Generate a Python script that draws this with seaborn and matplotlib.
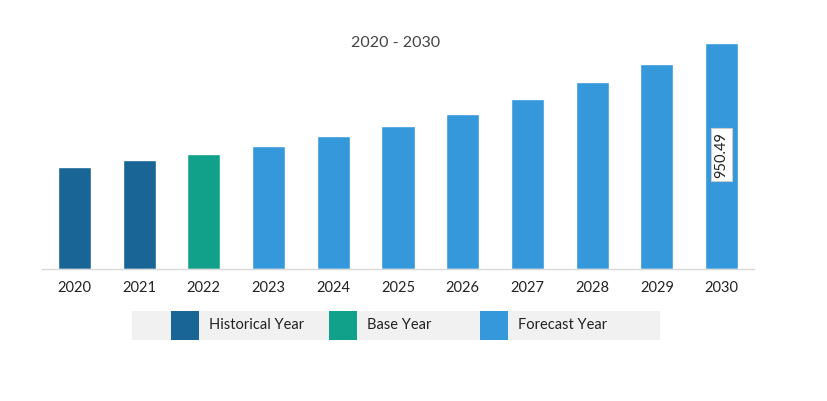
import matplotlib
matplotlib.use("Agg")
import matplotlib.pyplot as plt
from matplotlib.patches import Rectangle
import seaborn as sns
import pandas as pd

years = ["2020", "2021", "2022", "2023", "2024", "2025", "2026", "2027", "2028", "2029", "2030"]
values = [429, 458, 484, 517, 559, 601, 652, 715, 786, 862, 950.49]
periods = ["Historical Year", "Historical Year", "Base Year"] + ["Forecast Year"] * 8
legend_labels = ["Historical Year", "Base Year", "Forecast Year"]
colors = ["#186596", "#11a08a", "#3498db"]
title = "2020 - 2030"

df = pd.DataFrame({"year": years, "value": values, "period": periods})

sns.set_theme(style="white")
plt.rcParams["font.family"] = ["Lato", "DejaVu Sans"]

W, H = 828, 401
fig = plt.figure(figsize=(W / 100, H / 100), dpi=100)
ax = fig.add_axes([42 / W, 1 - 269 / H, (754 - 42) / W, (269 - 30) / H])

sns.barplot(data=df, x="year", y="value", hue="period", hue_order=legend_labels,
            palette=colors, dodge=False, width=0.51, legend=False, ax=ax, saturation=1)

ax.set_ylim(0, 950.49 * (269 - 30) / 226.5)
ax.set_xlim(-0.5, len(years) - 0.5)
for s in ["top", "right", "left"]:
    ax.spines[s].set_visible(False)
ax.spines["bottom"].set_color("#d9d9d9")
ax.spines["bottom"].set_linewidth(1)
ax.set_yticks([])
ax.set_xlabel("")
ax.set_ylabel("")
ax.tick_params(axis="x", which="major", length=0, pad=9, labelsize=10.5, labelcolor="#222222")
ax.set_xticks([i - 0.5 for i in range(len(years) + 1)], minor=True)
ax.tick_params(axis="x", which="minor", length=4, color="#d9d9d9", width=1)

# value label on last bar
ax.text(len(years) - 1, values[-1] * 0.505, f"{values[-1]:.2f}", rotation=90,
        ha="center", va="center", fontsize=10.5, color="#222222",
        bbox=dict(boxstyle="square,pad=0.22", facecolor="white", edgecolor="#cccccc", linewidth=0.8))

fig.text(396 / W, 1 - 43 / H, title, ha="center", va="center", fontsize=11.5, color="#444444")

# legend
fig.add_artist(Rectangle((132 / W, 1 - 340 / H), (660 - 132) / W, 29 / H,
                         transform=fig.transFigure, facecolor="#f1f1f1", edgecolor="none"))
handle_x = [171, 329, 480]
for hx, lab, c in zip(handle_x, legend_labels, colors):
    fig.add_artist(Rectangle((hx / W, 1 - 340 / H), 28 / W, 29 / H,
                             transform=fig.transFigure, facecolor=c, edgecolor="none"))
    fig.text((hx + 38) / W, 1 - 325 / H, lab, ha="left", va="center", fontsize=10.5, color="#222222")

fig.savefig("out.png", dpi=100)
